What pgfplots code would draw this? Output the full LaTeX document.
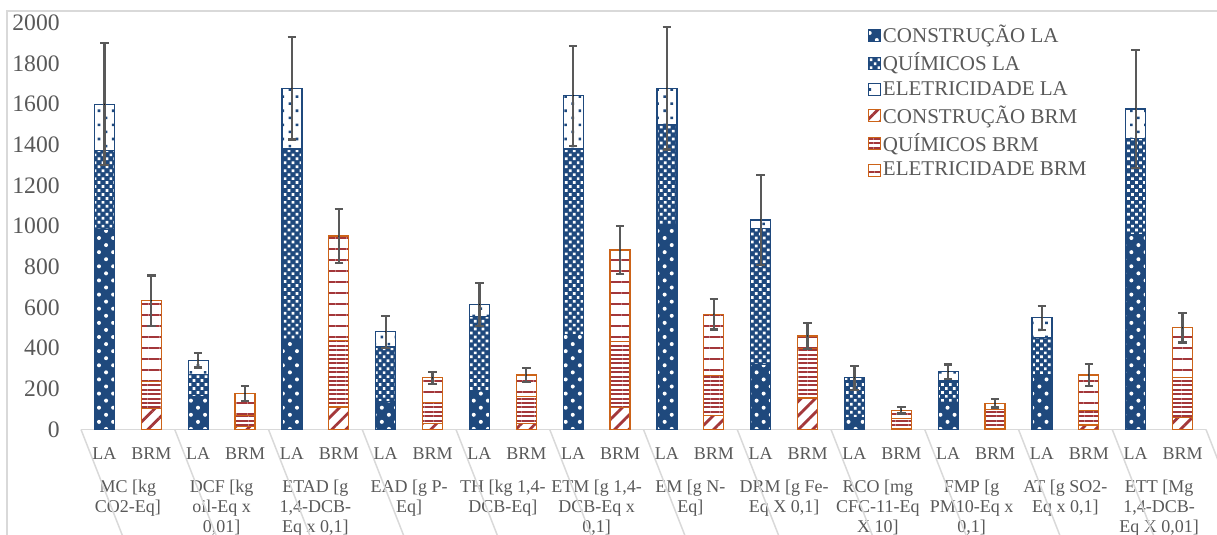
\documentclass[border=0pt]{standalone}
\usepackage{pgfplots}
\pgfplotsset{compat=1.18}
\usetikzlibrary{patterns.meta}
\usepackage{fontspec}
\setmainfont{Liberation Serif}

\definecolor{blueC}{HTML}{1F497D}
\definecolor{orangeC}{HTML}{CC6318}
\definecolor{redC}{HTML}{A3373A}
\definecolor{txt}{HTML}{595959}
\definecolor{gridC}{HTML}{D9D9D9}

\tikzset{
 constLA/.style={fill=blueC, draw=blueC, line width=0.6pt, postaction={pattern={Dots[distance=5pt, radius=1pt, angle=45]}, pattern color=white}},
 chemLA/.style={fill=blueC, draw=blueC, line width=0.6pt, postaction={pattern={Dots[distance=2.8pt, radius=0.95pt, angle=45]}, pattern color=white}},
 elecLA/.style={fill=white, draw=blueC, line width=0.6pt, postaction={pattern={Dots[distance=5pt, radius=0.9pt, angle=45]}, pattern color=blueC}},
 constBRM/.style={fill=white, draw=orangeC, line width=0.6pt, postaction={pattern={Lines[distance=5pt, angle=45, line width=1.4pt]}, pattern color=redC}},
 chemBRM/.style={fill=white, draw=orangeC, line width=0.6pt, postaction={pattern={Lines[distance=2.2pt, angle=0, line width=1pt]}, pattern color=redC}},
 elecBRM/.style={fill=white, draw=orangeC, line width=0.6pt, postaction={pattern={Lines[distance=5.5pt, angle=0, line width=1.1pt]}, pattern color=redC}},
}

\pgfplotsset{
 base/.style={scale only axis, width=562.5pt, height=203.4pt,
   xmin=-0.5, xmax=11.5, ymin=0, ymax=2000,
   at={(40.5pt,52.75pt)}, anchor=south west, clip=false},
}

\begin{document}
\begin{tikzpicture}
% ---------- LA bars, y ticks, category labels ----------
\begin{axis}[base,
  ybar stacked, bar width=10pt,
  axis line style={draw=none}, tick style={draw=none},
  ytick={0,200,...,2000},
  /pgf/number format/assume math mode=true,
  /pgf/number format/1000 sep={},
  yticklabel style={font=\fontsize{11.8}{12}\selectfont, text=txt, anchor=east, inner sep=0pt, xshift=-10.5pt},
  xtick={0,...,11},
  xticklabels={{MC [kg\\CO2-Eq]},{DCF [kg\\oil-Eq x\\0,01]},{ETAD [g\\1,4-DCB-\\Eq x 0,1]},{EAD [g P-\\Eq]},{TH [kg 1,4-\\DCB-Eq]},{ETM [g 1,4-\\DCB-Eq x\\0,1]},{EM [g N-\\Eq]},{DRM [g Fe-\\Eq X 0,1]},{RCO [mg\\CFC-11-Eq\\X 10]},{FMP [g\\PM10-Eq x\\0,1]},{AT [g SO2-\\Eq x 0,1]},{ETT [Mg\\1,4-DCB-\\Eq X 0,01]}},
  xticklabel style={font=\fontsize{9}{10}\selectfont, text=txt, align=center, anchor=north, inner sep=0pt, yshift=-25.3pt},
]
\addplot[constLA] coordinates {(-0.25,985) (0.75,160) (1.75,444) (2.75,136) (3.75,190) (4.75,467) (5.75,1005) (6.75,320) (7.75,57) (8.75,132) (9.75,267) (10.75,956)};
\addplot[chemLA] coordinates {(-0.25,385) (0.75,110) (1.75,935) (2.75,270) (3.75,364) (4.75,912) (5.75,495) (6.75,669) (7.75,181) (8.75,106) (9.75,184) (10.75,475)};
\addplot[elecLA] coordinates {(-0.25,229) (0.75,71) (1.75,298) (2.75,74) (3.75,61) (4.75,262) (5.75,177) (6.75,41) (7.75,16) (8.75,46) (9.75,98) (10.75,145)};
\draw[gridC, line width=0.75pt] (axis cs:-0.5,0) -- (axis cs:11.5,0);
\pgfplotsinvokeforeach{-0.5,0.5,...,11.5}{\draw[gridC, line width=0.75pt] (axis cs:#1,0) -- ++(0,-60pt);}
\end{axis}
% ---------- BRM bars ----------
\begin{axis}[base, hide axis, ybar stacked, bar width=10pt]
\addplot[constBRM] coordinates {(0.25,103) (1.25,16) (2.25,111) (3.25,30) (4.25,30) (5.25,108) (6.25,67) (7.25,155) (8.25,3) (9.25,4) (10.25,22) (11.25,58)};
\addplot[chemBRM] coordinates {(0.25,131) (1.25,54) (2.25,328) (3.25,101) (4.25,131) (5.25,323) (6.25,200) (7.25,243) (8.25,52) (9.25,95) (10.25,70) (11.25,197)};
\addplot[elecBRM] coordinates {(0.25,399) (1.25,107) (2.25,512) (3.25,123) (4.25,107) (5.25,451) (6.25,300) (7.25,62) (8.25,40) (9.25,30) (10.25,176) (11.25,245)};
\end{axis}
% ---------- error bars, LA/BRM labels, legend ----------
\begin{axis}[base,
  axis line style={draw=none}, tick style={draw=none},
  ytick=\empty,
  xtick={-0.25,0.25,0.75,1.25,1.75,2.25,2.75,3.25,3.75,4.25,4.75,5.25,5.75,6.25,6.75,7.25,7.75,8.25,8.75,9.25,9.75,10.25,10.75,11.25},
  xticklabels={LA,BRM,LA,BRM,LA,BRM,LA,BRM,LA,BRM,LA,BRM,LA,BRM,LA,BRM,LA,BRM,LA,BRM,LA,BRM,LA,BRM},
  xticklabel style={font=\fontsize{9}{9.75}\selectfont, text=txt, anchor=base, inner sep=0pt, yshift=-15pt},
  legend style={at={(0.699,1.0)}, anchor=north west, draw=none, fill=none,
    font=\fontsize{10.5}{12}\selectfont, text=txt, inner sep=0pt, row sep=1.65pt,
    nodes={inner sep=1pt}},
  legend cell align=left,
  legend image code/.code={\draw[#1] (0pt,-3pt) rectangle (6pt,3pt);},
]
\addplot[forget plot, only marks, mark=*, mark options={draw=none, fill=none, scale=0.01},
  error bars/.cd, y dir=both, y explicit, error mark=-,
  error bar style={line width=1.1pt, draw=txt, solid},
  error mark options={line width=1.1pt, mark size=2.1pt, draw=txt, solid, rotate=90}]
  coordinates {
  (-0.25,1599) +- (0,300) (0.75,341) +- (0,36) (1.75,1677) +- (0,251) (2.75,480) +- (0,78)
  (3.75,615) +- (0,106) (4.75,1641) +- (0,246) (5.75,1677) +- (0,300) (6.75,1030) +- (0,221)
  (7.75,254) +- (0,60) (8.75,284) +- (0,36) (9.75,549) +- (0,58) (10.75,1576) +- (0,291)
  (0.25,633) +- (0,124) (1.25,177) +- (0,38) (2.25,951) +- (0,133) (3.25,254) +- (0,30)
  (4.25,268) +- (0,33) (5.25,882) +- (0,119) (6.25,567) +- (0,75) (7.25,460) +- (0,63)
  (8.25,95) +- (0,16) (9.25,129) +- (0,21) (10.25,268) +- (0,55) (11.25,500) +- (0,72)
  };
\addlegendimage{constLA}\addlegendentry{CONSTRUÇÃO LA}
\addlegendimage{chemLA}\addlegendentry{QUÍMICOS LA}
\addlegendimage{elecLA}\addlegendentry{ELETRICIDADE LA}
\addlegendimage{constBRM}\addlegendentry{CONSTRUÇÃO BRM}
\addlegendimage{chemBRM}\addlegendentry{QUÍMICOS BRM}
\addlegendimage{elecBRM}\addlegendentry{ELETRICIDADE BRM}
\end{axis}
% outer chart border (left and top)
\draw[gridC, line width=0.75pt] (3.5pt,0pt) -- (3.5pt,262pt) -- (620pt,262pt);
\pgfresetboundingbox
\useasboundingbox (0,0) rectangle (608.5pt,267.5pt);
\end{tikzpicture}
\end{document}
